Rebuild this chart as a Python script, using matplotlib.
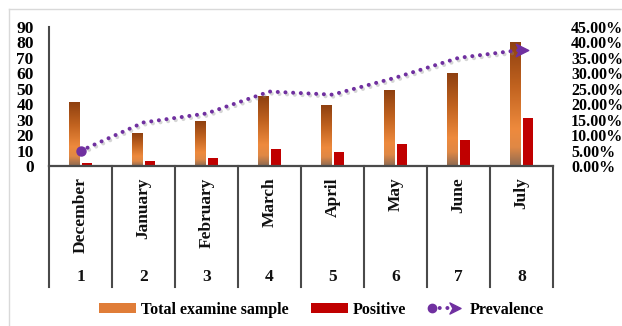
import numpy as np
import matplotlib
matplotlib.use("Agg")
import matplotlib.pyplot as plt
from matplotlib.colors import LinearSegmentedColormap
from matplotlib.lines import Line2D
from matplotlib.patches import Patch
from matplotlib.legend_handler import HandlerBase
from matplotlib.path import Path
import matplotlib.transforms as mtransforms
import matplotlib.patheffects as pe

# ---- data ----
months = ["December", "January", "February", "March", "April", "May", "June", "July"]
numbers = ["1", "2", "3", "4", "5", "6", "7", "8"]
total = [41, 21, 29, 45, 39, 49, 60, 80]
positive = [2, 3, 5, 11, 9, 14, 17, 31]
prevalence = [4.9, 14.1, 17.0, 24.1, 23.1, 28.6, 35.0, 37.6]  # percent
left_ticks = [0, 10, 20, 30, 40, 50, 60, 70, 80, 90]
right_ticks = [0, 5, 10, 15, 20, 25, 30, 35, 40, 45]

FONT = "Liberation Serif"
plt.rcParams["font.family"] = [FONT, "DejaVu Serif"]
plt.rcParams["font.weight"] = "bold"

W, H = 622, 326
fig = plt.figure(figsize=(W / 100, H / 100), dpi=100)
ax = fig.add_axes([49 / W, 1 - 166 / H, (553 - 49) / W, (166 - 27) / H])

x = np.arange(len(months))
bw = 0.16
off = 0.11

purple = "#7030A0"
red = "#C00000"
axcol = "#4a4a4a"

# total bars with vertical gradient
bars = ax.bar(x - off, total, bw, color="none", edgecolor="none", zorder=2)
cmap = LinearSegmentedColormap.from_list(
    "brown",
    [(0.0, "#8e4010"), (0.35, "#c0621f"), (0.7, "#ee8a3d"), (0.85, "#e08845"), (1.0, "#8e6a52")],
)
grad = np.linspace(0, 1, 256).reshape(-1, 1)
for b in bars:
    x0, y0 = b.get_x(), b.get_y()
    w, h = b.get_width(), b.get_height()
    ax.imshow(grad, extent=[x0, x0 + w, y0, y0 + h], origin="upper", aspect="auto",
              cmap=cmap, zorder=2, interpolation="bilinear")

ax.bar(x + off, positive, bw, color=red, edgecolor="none", zorder=2)

ax.set_xlim(-0.5, len(months) - 0.5)
ax.set_ylim(0, 90)
ax.set_yticks(left_ticks)
ax.set_yticklabels([str(t) for t in left_ticks], fontsize=12.5, fontweight="bold")
ax.tick_params(axis="y", length=0, pad=11)
ax.set_xticks([])
for s in ["top", "right"]:
    ax.spines[s].set_visible(False)
ax.spines["left"].set_color(axcol)
ax.spines["left"].set_linewidth(1.5)
ax.spines["bottom"].set_color(axcol)
ax.spines["bottom"].set_linewidth(1.6)

# category table below axis
trans = mtransforms.blended_transform_factory(ax.transData, ax.transAxes)
for edge in np.arange(len(months) + 1) - 0.5:
    ax.add_line(Line2D([edge, edge], [0, -0.87], transform=trans, color=axcol,
                       linewidth=1.5, clip_on=False))
for i, (m, n) in enumerate(zip(months, numbers)):
    ax.text(i, -0.083, m, transform=trans, rotation=90, ha="center", va="top",
            fontsize=12.5, fontweight="bold", color="#111111")
    ax.text(i, -0.80, n, transform=trans, ha="center", va="center",
            fontsize=12.5, fontweight="bold", color="#111111")

# prevalence on secondary axis
ax2 = ax.twinx()
ax2.set_ylim(0, 45)
ax2.set_yticks(right_ticks)
ax2.set_yticklabels([f"{t:.2f}%" for t in right_ticks], fontsize=11.5, fontweight="bold")
ax2.tick_params(axis="y", length=0, pad=13)
for s in ax2.spines.values():
    s.set_visible(False)

shadow = [pe.SimpleLineShadow(offset=(1.2, -1.5), shadow_color="#888888", alpha=0.35), pe.Normal()]
ax2.plot(x, prevalence, color=purple, linewidth=2.9, linestyle=(0, (0.01, 1.9)),
         dash_capstyle="round", zorder=3, path_effects=shadow)
ax2.plot(x[:1], prevalence[:1], marker="o", markersize=6.5, color=purple,
         linestyle="none", zorder=4)
arrow_path = Path([(-1, -1), (1, 0), (-1, 1), (-0.45, 0), (-1, -1)],
                  [Path.MOVETO, Path.LINETO, Path.LINETO, Path.LINETO, Path.CLOSEPOLY])
ax2.plot(x[-1:], prevalence[-1:], marker=arrow_path, markersize=9, color=purple,
         linestyle="none", zorder=4)


class HandlerPrev(HandlerBase):
    def create_artists(self, legend, orig_handle, xdescent, ydescent, width, height,
                       fontsize, trans):
        y = height / 2 - ydescent
        x0 = -xdescent + 3
        x1 = width - xdescent - 7
        l = Line2D([x0, x1], [y, y], color=purple, linewidth=2.9,
                   linestyle=(0, (0.01, 1.9)), dash_capstyle="round", transform=trans)
        m0 = Line2D([x0], [y], marker="o", markersize=6, color=purple, linestyle="none",
                    transform=trans)
        m1 = Line2D([x1], [y], marker=arrow_path, markersize=8, color=purple,
                    linestyle="none", transform=trans)
        return [l, m0, m1]


h_total = Patch(facecolor="#e07d38", edgecolor="none")
h_pos = Patch(facecolor=red, edgecolor="none")
h_prev = Line2D([], [])
leg = fig.legend([h_total, h_pos, h_prev], ["Total examine sample", "Positive", "Prevalence"],
                 handler_map={h_prev: HandlerPrev()}, loc="center",
                 bbox_to_anchor=(0.517, 0.049), ncol=3, frameon=False,
                 prop={"family": FONT, "weight": "bold", "size": 11.5},
                 handlelength=2.3, handleheight=0.6, handletextpad=0.3,
                 columnspacing=1.4)

# light frame
fig.add_artist(Line2D([9 / W, 9 / W], [0, 1 - 9 / H], transform=fig.transFigure,
                      color="#d9d9d9", linewidth=1))
fig.add_artist(Line2D([9 / W, 1], [1 - 9 / H, 1 - 9 / H], transform=fig.transFigure,
                      color="#d9d9d9", linewidth=1))

fig.savefig("out.png", dpi=100)
